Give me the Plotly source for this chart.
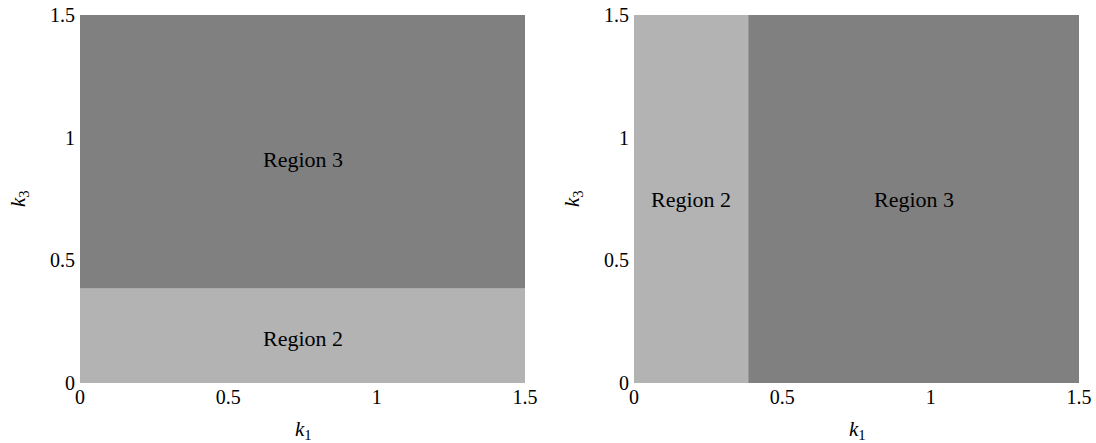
import plotly.graph_objects as go

# Data
boundary = 0.385           # region boundary value (k3 on left, k1 on right)
axis_max = 1.5
tick_vals = [0, 0.5, 1, 1.5]
tick_text = ["0", "0.5", "1", "1.5"]
region_names = ["Region 2", "Region 3"]
region_colors = ["#b3b3b3", "#808080"]
# label positions (k1, k3)
left_label_pos = [(0.75, 0.18), (0.75, 0.91)]
right_label_pos = [(0.193, 0.75), (0.943, 0.75)]

FONT = "Liberation Serif, DejaVu Serif, serif"
fig = go.Figure()

# Left panel: Region 2 below boundary in k3, Region 3 above
fig.add_trace(go.Scatter(x=[0, axis_max, axis_max, 0, 0], y=[0, 0, boundary, boundary, 0],
                         fill="toself", fillcolor=region_colors[0], mode="none",
                         xaxis="x", yaxis="y", showlegend=False, hoverinfo="skip"))
fig.add_trace(go.Scatter(x=[0, axis_max, axis_max, 0, 0], y=[boundary, boundary, axis_max, axis_max, boundary],
                         fill="toself", fillcolor=region_colors[1], mode="none",
                         xaxis="x", yaxis="y", showlegend=False, hoverinfo="skip"))
# Right panel: Region 2 left of boundary in k1, Region 3 right
fig.add_trace(go.Scatter(x=[0, boundary, boundary, 0, 0], y=[0, 0, axis_max, axis_max, 0],
                         fill="toself", fillcolor=region_colors[0], mode="none",
                         xaxis="x2", yaxis="y2", showlegend=False, hoverinfo="skip"))
fig.add_trace(go.Scatter(x=[boundary, axis_max, axis_max, boundary, boundary], y=[0, 0, axis_max, axis_max, 0],
                         fill="toself", fillcolor=region_colors[1], mode="none",
                         xaxis="x2", yaxis="y2", showlegend=False, hoverinfo="skip"))

for name, (px, py) in zip(region_names, left_label_pos):
    fig.add_annotation(x=px, y=py, xref="x", yref="y", text=name, showarrow=False,
                       font=dict(family=FONT, size=22, color="black"))
for name, (px, py) in zip(region_names, right_label_pos):
    fig.add_annotation(x=px, y=py, xref="x2", yref="y2", text=name, showarrow=False,
                       font=dict(family=FONT, size=22, color="black"))

axis_common = dict(range=[0, axis_max], tickvals=tick_vals, ticktext=tick_text,
                   showgrid=False, zeroline=False, showline=False, ticks="",
                   automargin=False,
                   tickfont=dict(family=FONT, size=20, color="black"), fixedrange=True)

fig.update_layout(
    width=1096, height=443,
    font=dict(family=FONT),
    margin=dict(l=0, r=0, t=15, b=60, autoexpand=False),
    paper_bgcolor="white", plot_bgcolor="white",
    xaxis=dict(domain=[80/1096, 525/1096], anchor="y", **axis_common),
    yaxis=dict(domain=[0, 1], anchor="x", ticklabelstandoff=4, **axis_common),
    xaxis2=dict(domain=[634/1096, 1079/1096], anchor="y2", **axis_common),
    yaxis2=dict(domain=[0, 1], anchor="x2", ticklabelstandoff=4, **axis_common),
)

# Axis titles
for xt, yt, txt, ang in [
    (303/1096, -0.128, "<i>k</i><sub>1</sub>", 0),
    (857/1096, -0.128, "<i>k</i><sub>1</sub>", 0),
    (19/1096, 0.5, "<i>k</i><sub>3</sub>", -90),
    (573/1096, 0.5, "<i>k</i><sub>3</sub>", -90),
]:
    fig.add_annotation(x=xt, y=yt, xref="paper", yref="paper", text=txt, showarrow=False,
                       textangle=ang, xanchor="center", yanchor="middle",
                       font=dict(family=FONT, size=21, color="black"))

fig.write_html("out.html")
